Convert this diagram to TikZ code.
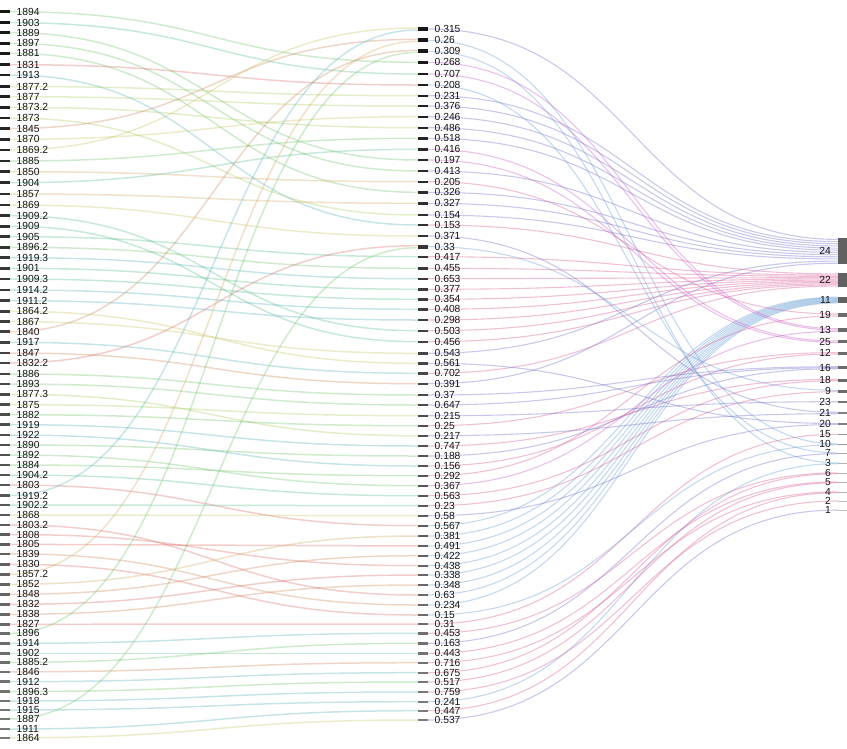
\documentclass[tikz,border=0pt]{standalone}
\usepackage{fontspec}
\setmainfont{Liberation Sans}
\pgfdeclarelayer{bg}
\pgfsetlayers{bg,main}
\definecolor{cR}{RGB}{215,110,100}
\definecolor{cO}{RGB}{205,135,95}
\definecolor{cT}{RGB}{210,170,100}
\definecolor{cY}{RGB}{200,195,100}
\definecolor{cYG}{RGB}{170,205,100}
\definecolor{cG}{RGB}{115,195,110}
\definecolor{cGT}{RGB}{90,190,140}
\definecolor{cC}{RGB}{90,180,190}
\definecolor{cP}{RGB}{110,110,200}
\definecolor{cK}{RGB}{215,90,150}
\definecolor{cB}{RGB}{100,155,210}
\definecolor{cM}{RGB}{200,90,200}
\begin{document}
\begin{tikzpicture}[x=1pt,y=-1pt,
  barbox/.style={rectangle,inner sep=0pt,draw=none},
  lbl/.style={inner sep=0pt,font=\fontsize{10.3}{12}\selectfont,text=black!92},
  llink/.style={line width=1.5pt,draw opacity=0.34},
  rlink/.style={line width=1.1pt,draw opacity=0.38}]
\useasboundingbox (0,0) rectangle (847,748);
% left column
\foreach \i/\y/\t in {1/11.7/1894,2/22.7/1903,3/32.7/1889,4/43.3/1897,5/53.3/1881,6/64.7/1831,7/75/1913,8/86.5/1877.2,9/96.7/1877,10/107.3/1873.2,11/118/1873,12/128.5/1845,13/139.3/1870,14/150/1869.2,15/161/1885,16/171.7/1850,17/182.7/1904,18/194/1857,19/205/1869,20/215.7/1909.2,21/226.3/1909,22/236.7/1905,23/247.3/1896.2,24/257.7/1919.3,25/268.3/1901,26/279/1909.3,27/290/1914.2,28/300.7/1911.2,29/311.3/1864.2,30/321.7/1867,31/331.7/1840,32/342.3/1917,33/353/1847,34/363/1832.2,35/374/1886,36/384/1893,37/394.3/1877.3,38/404.7/1875,39/414.7/1882,40/424.7/1919,41/435/1922,42/445/1890,43/455/1892,44/465/1884,45/475/1904.2,46/485/1803,47/495.5/1919.2,48/505/1902.2,49/515/1868,50/525/1803.2,51/534.5/1808,52/544.3/1805,53/553.8/1839,54/564.3/1830,55/574.3/1857.2,56/584.3/1852,57/594.3/1848,58/604.3/1832,59/614.3/1838,60/624.3/1827,61/633.3/1896,62/643.3/1914,63/653.3/1902,64/662.3/1885.2,65/671.8/1846,66/681.7/1912,67/691.5/1896.3,68/701/1918,69/710/1915,70/719/1887,71/729/1911,72/737.8/1864}{
  \pgfmathsetmacro\g{92-0.55*\i}
  \node[barbox,minimum width=10pt,minimum height=2.6pt,fill=black!\g] (L\i) at (5,\y) {};
  \node[lbl,anchor=west] (LT\i) at (16.5,\y) {\t};
}
% middle column
\foreach \i/\y/\t in {1/29/0.315,2/40.3/0.26,3/51.3/0.309,4/62.3/0.268,5/74/0.707,6/85/0.208,7/95.7/0.231,8/106/0.376,9/116.7/0.246,10/127.7/0.486,11/138.3/0.518,12/149.3/0.416,13/160/0.197,14/171/0.413,15/181.7/0.205,16/192.3/0.326,17/203.3/0.327,18/215/0.154,19/225/0.153,20/236/0.371,21/246.7/0.33,22/256.7/0.417,23/268.3/0.455,24/278.7/0.653,25/289.3/0.377,26/299.3/0.354,27/309.3/0.408,28/320/0.298,29/330.7/0.503,30/341.7/0.456,31/353.3/0.543,32/363.3/0.561,33/373.3/0.702,34/383.7/0.391,35/395/0.37,36/405/0.647,37/415.7/0.215,38/425.7/0.25,39/435.7/0.217,40/446/0.747,41/456/0.188,42/466/0.156,43/475.7/0.292,44/485.7/0.367,45/495.7/0.563,46/505.7/0.23,47/515.7/0.58,48/525.7/0.567,49/536/0.381,50/546/0.491,51/555.7/0.422,52/565.7/0.438,53/575/0.338,54/585/0.348,55/595/0.63,56/605/0.234,57/615/0.15,58/624/0.31,59/633.3/0.453,60/643.3/0.163,61/653.3/0.443,62/662.7/0.716,63/672.7/0.675,64/682/0.517,65/692/0.759,66/701.7/0.241,67/710.7/0.447,68/720/0.537}{
  \pgfmathsetmacro\g{92-0.6*\i}
  \pgfmathsetmacro\h{(\i==1||\i==2||\i==3||\i==21)?3.8:2.4}
  \node[barbox,minimum width=10pt,minimum height=\h pt,fill=black!\g] (M\i) at (423,\y) {};
  \node[lbl,anchor=west] (MT\i) at (434.5,\y) {\t};
}
% right column
\foreach \n/\y/\h/\g in {24/251.3/26/62,22/280/13.4/62,11/300/6.6/62,19/315/4/58,13/330/4/58,25/341.7/3/58,12/353.3/3/58,16/367.7/3/58,18/380/3/58,9/391/3/58,23/401.7/2/55,21/413/2/50,20/424/1.5/50,15/434.3/1.2/40,10/444.3/1.2/40,7/453.3/1/35,3/463.3/1/30,6/473.3/1/30,5/482.3/1/30,4/492.3/1/30,2/501/1/25,1/510/1/25}{
  \node[barbox,minimum width=9pt,minimum height=\h pt,fill=black!\g] (R\n) at (842.5,\y) {};
  \node[lbl,anchor=east] (RT\n) at (831,\y) {\n};
}
\begin{pgfonlayer}{bg}
\foreach \a/\b/\c/\o in {1/4/cG/0,2/5/cGT/0,3/13/cG/0,4/14/cG/0,5/16/cG/0,6/6/cR/0,7/19/cC/0,8/7/cYG/0,9/8/cYG/0,10/10/cYG/0,11/18/cYG/0,12/2/cO/1,13/9/cY/0,14/1/cY/1,15/11/cG/0,16/15/cT/0,17/12/cGT/0,18/17/cT/0,19/20/cY/0,20/29/cGT/0,21/30/cGT/0,22/22/cGT/0,23/23/cG/0,24/24/cC/0,25/25/cGT/0,26/26/cGT/0,27/27/cC/0,28/28/cC/0,29/32/cY/0,30/31/cY/0,31/3/cO/1,32/33/cC/0,33/34/cO/0,34/21/cR/1,35/35/cG/0,36/36/cG/0,37/39/cYG/0,38/37/cYG/0,39/38/cG/0,40/40/cC/0,41/42/cC/0,42/41/cG/0,43/44/cG/0,44/43/cG/0,45/45/cGT/0,46/48/cR/0,47/1/cC/-1,48/46/cGT/0,49/47/cY/0,50/55/cR/0,51/52/cR/0,52/50/cR/0,53/56/cO/0,54/57/cR/0,55/2/cT/-1,56/49/cT/0,57/51/cO/0,58/53/cR/0,59/54/cO/0,60/58/cR/0,61/3/cG/-1,62/59/cC/0,63/61/cGT/0,64/60/cG/0,65/62/cO/0,66/63/cC/0,67/64/cG/0,68/65/cC/0,69/66/cC/0,70/21/cG/-1,71/67/cC/0,72/68/cY/0}{
  \draw[llink,draw=\c] (L\a.east) .. controls +(204,0) and +(-204,0) .. ([yshift=\o pt]M\b.west);
}
\foreach \a/\r/\o/\c in {1/24/11.9/cP,7/24/9.7/cP,8/24/7.6/cP,9/24/5.4/cP,10/24/3.2/cP,11/24/1.1/cP,14/24/-1.1/cP,16/24/-3.3/cP,17/24/-5.5/cP,18/24/-7.6/cP,31/24/-9.8/cP,34/24/-11.9/cP,19/22/6.1/cK,22/22/4.9/cK,23/22/3.7/cK,24/22/2.4/cK,25/22/1.2/cK,26/22/0/cK,27/22/-1.2/cK,28/22/-2.4/cK,29/22/-3.7/cK,30/22/-4.9/cK,33/22/-6.1/cK,48/11/2.9/cB,49/11/2.2/cB,50/11/1.5/cB,51/11/0.8/cB,52/11/0/cB,53/11/-0.7/cB,54/11/-1.4/cB,55/11/-2.2/cB,56/11/-2.9/cB,4/13/1.3/cM,5/13/0/cM,44/13/-1.3/cM,12/25/0.7/cM,13/25/-0.7/cM,15/19/1/cK,43/19/-1/cK,38/12/0.7/cK,42/12/-0.7/cK,35/16/1/cP,36/16/0/cP,41/16/-1/cP,40/18/0.7/cK,45/18/-0.7/cK,21/9/0.7/cB,46/9/-0.7/cK,37/23/0/cP,20/21/0.7/cP,39/21/-0.7/cP,32/20/0.5/cP,47/20/-0.5/cP,58/15/0/cK,2/10/0.4/cB,57/10/-0.4/cB,6/7/0.4/cB,60/7/-0.4/cP,3/3/0.4/cB,66/3/-0.4/cB,59/6/0.4/cK,63/6/-0.4/cK,61/5/0.4/cK,64/5/-0.4/cK,62/4/0.4/cK,67/4/-0.4/cK,65/2/0/cK,68/1/0/cP}{
  \draw[rlink,draw=\c] (M\a.east) .. controls +(205,0) and +(-205,0) .. ([yshift=\o pt]R\r.west);
}
\end{pgfonlayer}
\end{tikzpicture}
\end{document}
